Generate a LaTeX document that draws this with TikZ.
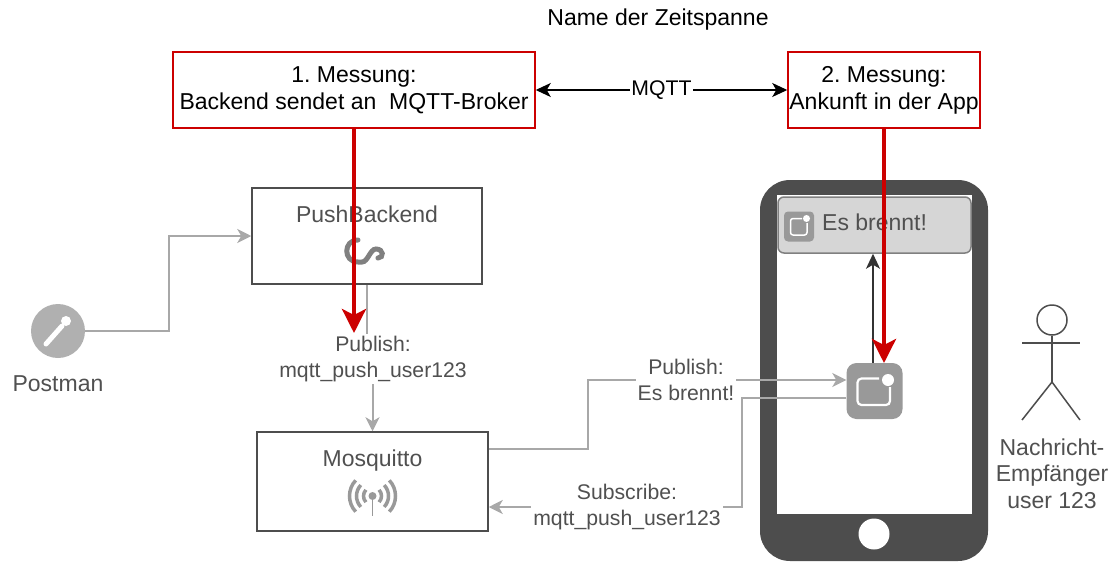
\documentclass[tikz,border=0pt]{standalone}
\usepackage{fontspec}
\setmainfont{Liberation Sans}
\usetikzlibrary{arrows.meta,calc}

\definecolor{mred}{HTML}{CC0000}
\definecolor{txtgray}{HTML}{505050}
\definecolor{linegray}{HTML}{A8A8A8}
\definecolor{framegray}{HTML}{4D4D4D}
\definecolor{icongray}{HTML}{999999}
\definecolor{notefill}{HTML}{D6D6D6}
\definecolor{pmgray}{HTML}{B0B0B0}

\tikzset{
  big/.style={font=\fontsize{23}{27}\selectfont},
  small/.style={font=\fontsize{21.2}{26}\selectfont},
  measurebox/.style={draw=mred, line width=1.5pt, fill=white, inner sep=0pt, align=center, big},
  compbox/.style={draw=framegray, line width=1.5pt, inner sep=0pt},
  flow/.style={draw=linegray, line width=2pt, -{Stealth[length=14pt,width=14pt,inset=4pt]}},
  edgelabel/.style={small, text=txtgray, fill=white, align=center, inner sep=2pt},
  timing/.style={draw=mred, line width=4pt, -{Stealth[length=24pt,width=24pt,inset=6pt]}},
  mqtt/.style={draw=black, line width=1.5pt,
    {Stealth[length=15pt,width=14pt,inset=4pt]}-{Stealth[length=15pt,width=14pt,inset=4pt]}},
  uparrow/.style={draw=black!80, line width=1.5pt, -{Stealth[length=15pt,width=14pt,inset=4pt]}},
  figure/.style={draw=framegray, line width=1.5pt},
}

\begin{document}
\frenchspacing
\begin{tikzpicture}[x=1pt,y=-1pt]
\useasboundingbox (0,0) rectangle (1116,562);

% heading
\node[big] (title) at (658,20) {Name der Zeitspanne};

% measurement points
\node[measurebox, minimum width=362pt, minimum height=76pt] (m1) at (354,90)
  {1. Messung:\\Backend sendet an\ \ MQTT-Broker};
\node[measurebox, minimum width=192pt, minimum height=76pt] (m2) at (884,90)
  {2. Messung:\\Ankunft in der App};
\draw[mqtt] (m1.east) -- node[small, fill=white, text=black, inner sep=1pt] (mqttlbl) {MQTT} (m2.west);

% PushBackend
\node[compbox, minimum width=230pt, minimum height=96pt] (pb) at (367,236) {};
\node[big, text=txtgray] (pbname) at (367,214) {PushBackend};
\draw[draw=gray, line width=5pt, line cap=round]
  (358,240) .. controls (343,240) and (343,262) .. (358,262)
  -- (362,262) .. controls (368,262) and (370,249) .. (376,249)
  .. controls (384,249) and (384,258) .. (378,258);

% Mosquitto
\node[compbox, minimum width=231pt, minimum height=99pt] (mq) at (372.5,481.5) {};
\node[big, text=txtgray] (mqname) at (372.5,461) {Mosquitto};
\coordinate (ant) at (372.5,496);
\fill[icongray] (ant) circle (4pt);
\draw[icongray, line width=1.5pt] (ant) -- ++(0,20);
\foreach \r in {9,16,23}{
  \draw[icongray, line width=3.5pt] (ant) ++(137:\r) arc[start angle=137, end angle=223, radius=\r];
  \draw[icongray, line width=3.5pt] (ant) ++(-43:\r) arc[start angle=-43, end angle=43, radius=\r];
}

% Postman
\node[circle, fill=pmgray, minimum size=54pt, inner sep=0pt] (pm) at (58,331) {};
\draw[white, line width=5pt, line cap=round] (46,344) -- (62,326);
\fill[white] (66,321) circle (5pt);
\node[big, text=txtgray] (pmname) at (58,384) {Postman};

% phone
\fill[framegray, rounded corners=30pt] (760,180) rectangle (988,561);
\fill[white] (777,195) rectangle (972,514);
\node[circle, fill=white, minimum size=31pt, inner sep=0pt] (home) at (874,534) {};

% notification
\node[draw=gray, fill=notefill, rounded corners=6pt, line width=1.5pt,
      minimum width=193pt, minimum height=56pt, inner sep=0pt] (note) at (874.5,225) {};
\node[fill=icongray, rounded corners=4pt, minimum size=30pt, inner sep=0pt] (noteicon) at (799,226.5) {};
\draw[white, line width=1.5pt, rounded corners=2.5pt] (802,218.5) -- (790.5,218.5) -- (790.5,235) -- (807,235) -- (807,223);
\fill[white] (806.5,218.5) circle (3.5pt);
\node[big, text=txtgray, anchor=west, inner sep=0pt] (notetext) at (822,222) {Es brennt!};

% app icon
\node[fill=icongray, rounded corners=10pt, minimum size=56pt, inner sep=0pt] (app) at (874.5,391) {};
\draw[white, line width=2.2pt, rounded corners=4pt] (879,378.5) -- (857.5,378.5) -- (857.5,405) -- (890,405) -- (890,387);
\fill[white] (888,380) circle (6pt);

% app shows the notification
\draw[uparrow] ([xshift=-1.5pt]app.north) -- ([xshift=-1.5pt]note.south);

% Postman -> PushBackend
\draw[flow] (pm.east) -- ++(84,0) |- (pb.west);

% PushBackend -> Mosquitto
\draw[flow] (pb.south) -- (367,359) -- (372.5,359) -- (mq.north);
\node[edgelabel] (publbl) at (373,359) {Publish:\\mqtt\_push\_user123};

% Mosquitto -> app
\draw[flow] ([yshift=32.5pt]mq.east) -- (588,449) -- (588,380) -- ([yshift=11pt]app.west);
\node[edgelabel] (pubapp) at (686,380) {Publish:\\Es brennt!};

% app -> Mosquitto
\draw[flow] ([yshift=-7pt]app.west) -- (742,398) -- (742,507) -- ([yshift=-25.5pt]mq.east);
\node[edgelabel] (sublbl) at (627,507) {Subscribe:\\mqtt\_push\_user123};

% receiver
\node[circle, figure, minimum size=30pt, inner sep=0pt] (head) at (1052,320) {};
\coordinate (hip) at (1052,382);
\draw[figure] (head.south) -- (hip);
\draw[figure] (1022,343) -- (1080,343);
\draw[figure] (1022,420) -- (hip) -- (1080,420);
\node[text=txtgray, align=center, font=\fontsize{23}{26.5}\selectfont] (rcv) at (1052,473.5)
  {Nachricht-\\Empfänger\\user 123};

% measurement markers
\coordinate (r1) at (354,333);
\coordinate (r2) at (884,363);
\draw[timing] (m1.south) -- (r1);
\draw[timing] (m2.south) -- (r2);
\end{tikzpicture}
\end{document}
